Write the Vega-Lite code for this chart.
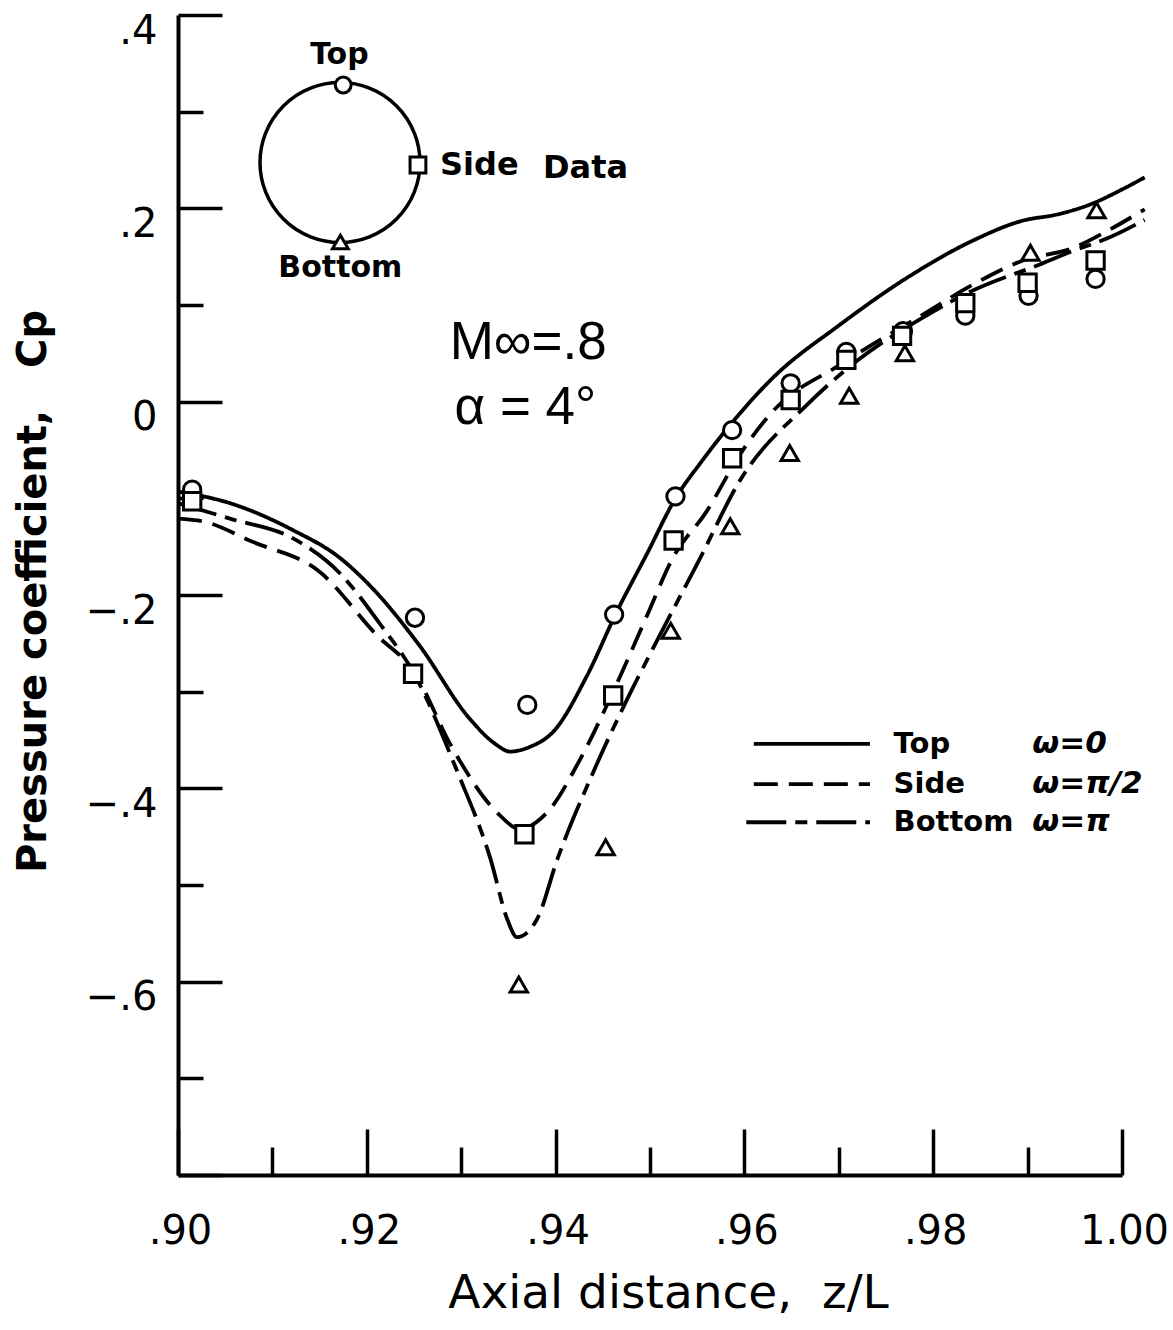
{
  "$schema": "https://vega.github.io/schema/vega-lite/v6.json",
  "autosize": "none",
  "width": 944,
  "height": 1160,
  "padding": {"left": 178, "top": 15, "right": 51, "bottom": 155},
  "background": "white",
  "config": {
    "view": {"stroke": null},
    "font": "DejaVu Sans",
    "axis": {"grid": false, "domainColor": "black", "tickColor": "black", "labelColor": "black", "titleColor": "black"}
  },
  "datasets": {
    "curves": [
      {"loc": "Top", "x": 0.9000, "cp": -0.093},
      {"loc": "Top", "x": 0.9055, "cp": -0.105},
      {"loc": "Top", "x": 0.9122, "cp": -0.133},
      {"loc": "Top", "x": 0.9172, "cp": -0.162},
      {"loc": "Top", "x": 0.9203, "cp": -0.190},
      {"loc": "Top", "x": 0.9256, "cp": -0.2525},
      {"loc": "Top", "x": 0.9309, "cp": -0.328},
      {"loc": "Top", "x": 0.9336, "cp": -0.354},
      {"loc": "Top", "x": 0.9352, "cp": -0.362},
      {"loc": "Top", "x": 0.9373, "cp": -0.357},
      {"loc": "Top", "x": 0.9397, "cp": -0.342},
      {"loc": "Top", "x": 0.9433, "cp": -0.284},
      {"loc": "Top", "x": 0.9465, "cp": -0.217},
      {"loc": "Top", "x": 0.9497, "cp": -0.157},
      {"loc": "Top", "x": 0.9527, "cp": -0.100},
      {"loc": "Top", "x": 0.9553, "cp": -0.064},
      {"loc": "Top", "x": 0.9585, "cp": -0.024},
      {"loc": "Top", "x": 0.9630, "cp": 0.0245},
      {"loc": "Top", "x": 0.9701, "cp": 0.0795},
      {"loc": "Top", "x": 0.9772, "cp": 0.128},
      {"loc": "Top", "x": 0.9842, "cp": 0.1666},
      {"loc": "Top", "x": 0.9895, "cp": 0.1873},
      {"loc": "Top", "x": 0.9931, "cp": 0.1936},
      {"loc": "Top", "x": 0.9966, "cp": 0.2039},
      {"loc": "Top", "x": 1.0000, "cp": 0.2195},
      {"loc": "Top", "x": 1.0024, "cp": 0.232},
      {"loc": "Side", "x": 0.9000, "cp": -0.121},
      {"loc": "Side", "x": 0.9027, "cp": -0.124},
      {"loc": "Side", "x": 0.9079, "cp": -0.145},
      {"loc": "Side", "x": 0.9150, "cp": -0.176},
      {"loc": "Side", "x": 0.9211, "cp": -0.242},
      {"loc": "Side", "x": 0.9249, "cp": -0.278},
      {"loc": "Side", "x": 0.9291, "cp": -0.359},
      {"loc": "Side", "x": 0.9338, "cp": -0.425},
      {"loc": "Side", "x": 0.9362, "cp": -0.442},
      {"loc": "Side", "x": 0.9391, "cp": -0.425},
      {"loc": "Side", "x": 0.9426, "cp": -0.370},
      {"loc": "Side", "x": 0.9461, "cp": -0.300},
      {"loc": "Side", "x": 0.9497, "cp": -0.221},
      {"loc": "Side", "x": 0.9524, "cp": -0.162},
      {"loc": "Side", "x": 0.9560, "cp": -0.1135},
      {"loc": "Side", "x": 0.9595, "cp": -0.055},
      {"loc": "Side", "x": 0.9630, "cp": -0.010},
      {"loc": "Side", "x": 0.9701, "cp": 0.038},
      {"loc": "Side", "x": 0.9789, "cp": 0.090},
      {"loc": "Side", "x": 0.9842, "cp": 0.121},
      {"loc": "Side", "x": 0.9895, "cp": 0.146},
      {"loc": "Side", "x": 0.9948, "cp": 0.159},
      {"loc": "Side", "x": 0.9987, "cp": 0.178},
      {"loc": "Side", "x": 1.0024, "cp": 0.199},
      {"loc": "Bottom", "x": 0.9000, "cp": -0.105},
      {"loc": "Bottom", "x": 0.9055, "cp": -0.121},
      {"loc": "Bottom", "x": 0.9122, "cp": -0.1415},
      {"loc": "Bottom", "x": 0.9172, "cp": -0.178},
      {"loc": "Bottom", "x": 0.9214, "cp": -0.230},
      {"loc": "Bottom", "x": 0.9249, "cp": -0.2795},
      {"loc": "Bottom", "x": 0.9296, "cp": -0.383},
      {"loc": "Bottom", "x": 0.9331, "cp": -0.473},
      {"loc": "Bottom", "x": 0.9349, "cp": -0.536},
      {"loc": "Bottom", "x": 0.9359, "cp": -0.554},
      {"loc": "Bottom", "x": 0.9380, "cp": -0.536},
      {"loc": "Bottom", "x": 0.9402, "cp": -0.473},
      {"loc": "Bottom", "x": 0.9440, "cp": -0.383},
      {"loc": "Bottom", "x": 0.9476, "cp": -0.3075},
      {"loc": "Bottom", "x": 0.9507, "cp": -0.248},
      {"loc": "Bottom", "x": 0.9553, "cp": -0.162},
      {"loc": "Bottom", "x": 0.9595, "cp": -0.082},
      {"loc": "Bottom", "x": 0.9666, "cp": -0.0035},
      {"loc": "Bottom", "x": 0.9719, "cp": 0.042},
      {"loc": "Bottom", "x": 0.9789, "cp": 0.087},
      {"loc": "Bottom", "x": 0.9842, "cp": 0.115},
      {"loc": "Bottom", "x": 0.9913, "cp": 0.142},
      {"loc": "Bottom", "x": 0.9948, "cp": 0.156},
      {"loc": "Bottom", "x": 0.9987, "cp": 0.170},
      {"loc": "Bottom", "x": 1.0024, "cp": 0.188}
    ],
    "points": [
      {"loc": "Top", "x": 0.9015, "cp": -0.091},
      {"loc": "Top", "x": 0.9251, "cp": -0.2235},
      {"loc": "Top", "x": 0.9370, "cp": -0.3137},
      {"loc": "Top", "x": 0.9462, "cp": -0.2203},
      {"loc": "Top", "x": 0.9527, "cp": -0.098},
      {"loc": "Top", "x": 0.9587, "cp": -0.0295},
      {"loc": "Top", "x": 0.9649, "cp": 0.019},
      {"loc": "Top", "x": 0.9708, "cp": 0.0515},
      {"loc": "Top", "x": 0.9768, "cp": 0.073},
      {"loc": "Top", "x": 0.9834, "cp": 0.089},
      {"loc": "Top", "x": 0.9901, "cp": 0.1095},
      {"loc": "Top", "x": 0.9972, "cp": 0.127},
      {"loc": "Side", "x": 0.9015, "cp": -0.103},
      {"loc": "Side", "x": 0.9249, "cp": -0.2815},
      {"loc": "Side", "x": 0.9367, "cp": -0.4475},
      {"loc": "Side", "x": 0.9461, "cp": -0.304},
      {"loc": "Side", "x": 0.9525, "cp": -0.1436},
      {"loc": "Side", "x": 0.9587, "cp": -0.0585},
      {"loc": "Side", "x": 0.9649, "cp": 0.0017},
      {"loc": "Side", "x": 0.9708, "cp": 0.0432},
      {"loc": "Side", "x": 0.9767, "cp": 0.068},
      {"loc": "Side", "x": 0.9834, "cp": 0.102},
      {"loc": "Side", "x": 0.9900, "cp": 0.123},
      {"loc": "Side", "x": 0.9972, "cp": 0.146},
      {"loc": "Bottom", "x": 0.9361, "cp": -0.603},
      {"loc": "Bottom", "x": 0.9453, "cp": -0.461},
      {"loc": "Bottom", "x": 0.9522, "cp": -0.237},
      {"loc": "Bottom", "x": 0.9585, "cp": -0.129},
      {"loc": "Bottom", "x": 0.9648, "cp": -0.053},
      {"loc": "Bottom", "x": 0.9711, "cp": 0.006},
      {"loc": "Bottom", "x": 0.9770, "cp": 0.050},
      {"loc": "Bottom", "x": 0.9903, "cp": 0.154},
      {"loc": "Bottom", "x": 0.9973, "cp": 0.198}
    ],
    "inset": [
      {"loc": "Top", "x": 0.9175, "cp": 0.3276},
      {"loc": "Side", "x": 0.92542, "cp": 0.2448},
      {"loc": "Bottom", "x": 0.9172, "cp": 0.1652}
    ],
    "ring": [
      {"x": 0.91716, "cp": 0.2474}
    ],
    "key": [
      {"loc": "Top", "x": 0.9610, "x2": 0.9733, "cp": -0.3541, "name": "Top", "omega": "ω=0"},
      {"loc": "Side", "x": 0.9610, "x2": 0.9733, "cp": -0.3956, "name": "Side", "omega": "ω=π/2"},
      {"loc": "Bottom", "x": 0.9602, "x2": 0.9733, "cp": -0.4351, "name": "Bottom", "omega": "ω=π"}
    ]
  },
  "encoding": {
    "x": {
      "field": "x", "type": "quantitative",
      "scale": {"domain": [0.9, 1.0], "nice": false, "zero": false},
      "axis": {
        "values": [0.9, 0.91, 0.92, 0.93, 0.94, 0.95, 0.96, 0.97, 0.98, 0.99, 1.0],
        "labelExpr": "round(datum.value*100) % 2 == 1 ? '' : (datum.value > 0.995 ? '1.00' : replace(format(datum.value, '.2f'), '0.', '.'))",
        "labelFont": "DejaVu Sans", "labelFontSize": 40, "labelPadding": 82, "labelOffset": 2, "labelFlush": false,
        "domainWidth": 4, "tickWidth": 3.5,
        "tickSize": {"condition": {"test": "round(datum.value*100) % 2 == 0", "value": -46}, "value": -28},
        "title": "Axial distance,\u00a0\u00a0z/L",
        "titleFont": "DejaVu Sans", "titleFontSize": 47, "titleFontWeight": "normal", "titleLetterSpacing": 5,
        "titleX": 490, "titleY": 118, "titleBaseline": "middle", "titleAlign": "center"
      }
    },
    "y": {
      "field": "cp", "type": "quantitative",
      "scale": {"domain": [-0.8, 0.4], "nice": false, "zero": false},
      "axis": {
        "values": [-0.8, -0.7, -0.6, -0.5, -0.4, -0.3, -0.2, -0.1, 0, 0.1, 0.2, 0.3, 0.4],
        "labelExpr": "(round(datum.value*10) % 2 != 0 || datum.value < -0.75) ? '' : (datum.value == 0 ? '0' : replace(replace(format(datum.value, '.1f'), '0.', '.'), '-', '−'))",
        "labelFont": "DejaVu Sans", "labelFontSize": 40, "labelPadding": 65, "labelOffset": 16,
        "domainWidth": 4, "tickWidth": 3.5,
        "tickSize": {"condition": {"test": "round(datum.value*10) % 2 == 0", "value": -44}, "value": -25},
        "title": "Pressure coefficient,\u00a0\u00a0\u00a0Cp",
        "titleFont": "DejaVu Sans", "titleFontSize": 40, "titleFontWeight": "bold",
        "titleX": -145, "titleY": 576, "titleBaseline": "middle", "titleAlign": "center", "titleAngle": -90
      }
    }
  },
  "layer": [
    {
      "data": {"name": "curves"},
      "mark": {"type": "line", "color": "black", "strokeWidth": 3.8, "interpolate": "monotone"},
      "encoding": {
        "detail": {"field": "loc"},
        "strokeDash": {"field": "loc", "type": "nominal", "scale": {"domain": ["Top", "Side", "Bottom"], "range": [[1, 0], [24, 11], [40, 9, 12, 9]]}, "legend": null}
      }
    },
    {
      "data": {"name": "ring"},
      "mark": {"type": "point", "shape": "circle", "size": 25600, "stroke": "black", "strokeWidth": 3.5, "fill": null, "opacity": 1}
    },
    {
      "data": {"name": "points"},
      "mark": {"type": "point", "size": 300, "stroke": "black", "strokeWidth": 3, "fill": "white", "opacity": 1, "filled": false},
      "encoding": {
        "shape": {"field": "loc", "type": "nominal", "scale": {"domain": ["Top", "Side", "Bottom"], "range": ["circle", "square", "triangle-up"]}, "legend": null}
      }
    },
    {
      "data": {"name": "inset"},
      "mark": {"type": "point", "size": 250, "stroke": "black", "strokeWidth": 3, "fill": "white", "opacity": 1, "filled": false},
      "encoding": {
        "shape": {"field": "loc", "type": "nominal", "scale": {"domain": ["Top", "Side", "Bottom"], "range": ["circle", "square", "triangle-up"]}, "legend": null}
      }
    },
    {
      "data": {"name": "key"},
      "mark": {"type": "rule", "color": "black", "strokeWidth": 3.8},
      "encoding": {
        "x2": {"field": "x2"},
        "strokeDash": {"field": "loc", "type": "nominal", "scale": {"domain": ["Top", "Side", "Bottom"], "range": [[1, 0], [24, 11], [40, 9, 12, 9]]}, "legend": null}
      }
    },
    {
      "data": {"name": "key"},
      "mark": {"type": "text", "align": "left", "baseline": "middle", "fontSize": 29, "fontWeight": "bold", "font": "DejaVu Sans", "color": "black"},
      "encoding": {"x": {"datum": 0.9758}, "text": {"field": "name"}}
    },
    {
      "data": {"name": "key"},
      "mark": {"type": "text", "align": "left", "baseline": "middle", "fontSize": 31, "fontWeight": "bold", "font": "DejaVu Sans", "fontStyle": "italic", "color": "black"},
      "encoding": {"x": {"datum": 0.9905}, "text": {"field": "omega"}}
    },
    {
      "data": {"values": [
        {"label": "Top", "x": 0.9171, "cp": 0.3586},
        {"label": "Bottom", "x": 0.9172, "cp": 0.1386}
      ]},
      "mark": {"type": "text", "align": "center", "baseline": "middle", "fontSize": 30, "fontWeight": "bold", "font": "DejaVu Sans", "color": "black"},
      "encoding": {"text": {"field": "label"}}
    },
    {
      "data": {"values": [
        {"label": "Side", "x": 0.92775, "cp": 0.2448},
        {"label": "Data", "x": 0.93867, "cp": 0.2418}
      ]},
      "mark": {"type": "text", "align": "left", "baseline": "middle", "fontSize": 32, "fontWeight": "bold", "font": "DejaVu Sans", "color": "black"},
      "encoding": {"text": {"field": "label"}}
    },
    {
      "data": {"values": [
        {"label": "M∞=.8", "x": 0.9371, "cp": 0.0607},
        {"label": "α = 4°", "x": 0.9368, "cp": -0.0065}
      ]},
      "mark": {"type": "text", "align": "center", "baseline": "middle", "fontSize": 53, "font": "Liberation Sans", "color": "black"},
      "encoding": {"text": {"field": "label"}}
    }
  ]
}
